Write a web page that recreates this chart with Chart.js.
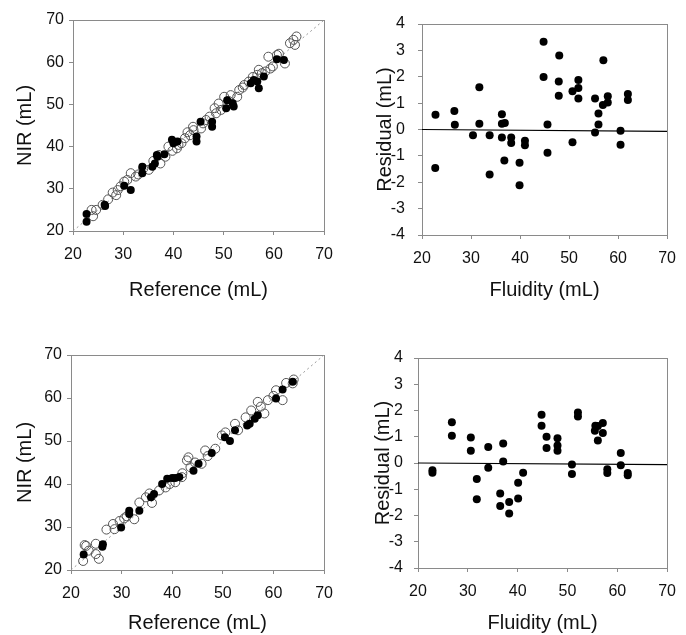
<!DOCTYPE html>
<html>
<head>
<meta charset="utf-8">
<script src="https://cdn.jsdelivr.net/npm/chart.js@4.4.1/dist/chart.umd.min.js"></script>
<style>
  body { margin: 0; background: #fff; }
  #wrap { position: relative; width: 686px; height: 635px; }
  canvas { position: absolute; }
</style>
</head>
<body>
<div id="wrap">
  <canvas id="topLeft" width="343" height="310" style="left:0;top:0"></canvas>
  <canvas id="topRight" width="343" height="310" style="left:343px;top:0"></canvas>
  <canvas id="bottomLeft" width="343" height="325" style="left:0;top:310px"></canvas>
  <canvas id="bottomRight" width="343" height="325" style="left:343px;top:310px"></canvas>
</div>
<script>
// ---- data ----
const xTickValues = [20, 30, 40, 50, 60, 70];
const nirTickValues = [20, 30, 40, 50, 60, 70];
const residTickValues = [-4, -3, -2, -1, 0, 1, 2, 3, 4];

const diagX = [20, 70];
const diagY = [20, 70];
const zeroX = [20, 70];
const zeroYTop = [0, -0.07];
const zeroYBottom = [0, -0.06];

// top left: NIR vs reference
const tlFilledX = [22.7, 22.7, 26.4, 30.2, 31.5, 33.8, 33.8, 35.8, 36.3, 36.8, 38.2, 39.7, 40.0, 40.8, 44.6, 44.6, 45.4, 47.7, 47.7, 50.7, 50.5, 51.8, 52.0, 55.4, 56.0, 56.7, 57.0, 58.0, 60.6, 62.0, 26.3, 36.7];
const tlFilledY = [24.0, 22.2, 25.9, 30.7, 29.7, 35.2, 33.7, 35.2, 36.0, 37.6, 38.2, 41.6, 40.8, 41.2, 41.2, 42.4, 45.9, 45.9, 44.7, 51.0, 49.1, 50.3, 49.5, 55.0, 55.8, 55.4, 53.8, 56.6, 60.7, 60.5, 26.2, 38.0];
const tlOpenX = [23.7, 24.6, 25.9, 27.9, 28.6, 28.9, 30.2, 31.5, 30.8, 32.5, 35.1, 37.4, 38.4, 40.7, 41.0, 42.3, 43.3, 43.9, 45.5, 45.9, 47.2, 48.2, 49.5, 50.1, 51.4, 53.1, 52.7, 55.0, 57.0, 57.6, 58.3, 59.3, 58.9, 60.6, 62.2, 63.9, 64.2, 64.5, 63.2, 37.1, 39.0, 41.6, 44.0, 48.5, 54.1, 56.7, 33.0, 29.5,
                 34.0, 36.0, 39.8, 42.8, 46.5, 49.0, 51.0, 53.8, 55.8, 59.8, 61.0, 27.0, 24.0];
const tlOpenY = [25.0, 25.0, 26.2, 29.1, 28.5, 29.7, 31.7, 33.7, 32.1, 32.9, 34.5, 36.0, 37.6, 39.6, 40.4, 42.0, 42.7, 44.7, 44.3, 45.5, 47.1, 49.1, 48.7, 51.8, 52.2, 53.4, 51.8, 55.4, 58.2, 57.4, 57.8, 58.5, 61.3, 61.7, 59.7, 65.3, 64.1, 66.1, 64.5, 38.0, 40.0, 40.8, 43.9, 47.9, 54.6, 57.0, 33.4, 30.6,
                 34.8, 36.6, 39.0, 43.4, 46.3, 50.2, 50.8, 54.0, 56.5, 59.0, 62.0, 27.5, 23.5];

// top right: residuals
const trX = [22.75, 22.7, 26.6, 26.7, 30.4, 31.7, 31.7, 33.8, 33.8, 36.3, 36.3, 36.9, 36.3, 36.8, 38.2, 38.2, 39.9, 39.9, 41.0, 41.0, 44.8, 44.8, 45.6, 45.6, 48.0, 47.9, 47.9, 50.7, 50.7, 51.9, 51.9, 51.9, 55.3, 55.3, 56.0, 56.0, 57.0, 56.9, 57.9, 57.9, 60.5, 60.5, 62.0, 62.0];
const trY = [0.56, -1.46, 0.70, 0.18, -0.22, 1.60, 0.22, -0.22, -1.71, 0.58, 0.22, 0.25, -0.30, -1.18, -0.30, -0.51, -1.26, -2.11, -0.43, -0.60, 3.33, 1.99, 0.19, -0.88, 2.81, 1.82, 1.28, 1.45, -0.48, 1.88, 1.57, 1.18, 1.18, -0.11, 0.61, 0.19, 2.63, 0.93, 1.26, 1.02, -0.05, -0.58, 1.35, 1.12];

// bottom left: NIR vs reference
const blFilledX = [22.5, 26.2, 26.3, 29.9, 31.5, 31.5, 33.5, 35.8, 36.4, 38.0, 39.0, 40.0, 40.6, 44.2, 45.2, 47.8, 50.4, 51.4, 52.4, 55.3, 56.3, 56.9, 60.5, 61.8, 63.8, 41.4, 54.8];
const blFilledY = [23.6, 25.4, 26.0, 29.9, 33.0, 33.8, 33.8, 36.9, 37.7, 40.0, 41.2, 41.4, 41.4, 43.1, 44.7, 47.2, 50.9, 50.0, 52.5, 54.0, 55.2, 56.0, 59.9, 62.0, 63.8, 41.6, 53.6];
const blOpenX = [22.4, 24.9, 25.5, 23.0, 24.9, 22.7, 28.3, 28.6, 29.6, 32.5, 33.5, 34.8, 37.4, 38.7, 40.6, 41.9, 42.9, 43.6, 43.2, 45.8, 46.5, 48.5, 49.8, 52.4, 53.0, 55.6, 56.9, 58.2, 58.9, 60.5, 61.8, 63.8, 64.0, 27.0, 30.5, 36.0,
                 35.5, 39.5, 42.0, 44.5, 47.0, 50.5, 54.5, 57.5, 60.0, 62.5, 31.0, 23.5];
const blOpenY = [22.1, 23.7, 22.6, 25.6, 26.1, 25.8, 30.7, 29.5, 31.4, 31.8, 35.7, 36.9, 38.5, 39.2, 40.4, 41.6, 45.5, 43.9, 46.2, 44.7, 47.8, 48.2, 51.3, 54.0, 52.5, 57.1, 59.1, 56.4, 59.5, 61.8, 59.5, 63.4, 64.3, 29.4, 32.0, 35.6,
                 37.8, 40.0, 42.5, 45.0, 46.5, 52.0, 55.5, 58.0, 60.5, 63.5, 32.5, 24.5];

// bottom right: residuals
const brX = [22.9, 22.9, 26.8, 26.8, 30.6, 30.6, 31.8, 31.8, 34.1, 34.1, 37.1, 37.1, 36.5, 36.5, 38.3, 38.3, 40.1, 40.1, 41.1, 44.8, 44.8, 45.8, 45.8, 48.0, 48.0, 48.0, 50.9, 50.9, 52.1, 52.1, 55.6, 55.5, 56.1, 57.1, 57.1, 56.1, 58.0, 58.0, 60.7, 60.7, 62.1, 62.1];
const brY = [-0.28, -0.37, 1.55, 1.04, 0.97, 0.47, -0.61, -1.38, 0.61, -0.18, 0.74, 0.06, -1.16, -1.64, -1.49, -1.92, -0.75, -1.35, -0.37, 1.84, 1.42, 1.00, 0.57, 0.94, 0.67, 0.47, -0.06, -0.42, 1.92, 1.77, 1.42, 1.23, 1.41, 1.52, 1.14, 0.86, -0.24, -0.38, 0.38, -0.09, -0.38, -0.47];

// ---- helpers ----
const zip = (xs, ys) => xs.map((x, i) => ({ x: x, y: ys[i] }));
const FONT = "'Liberation Sans', Arial, sans-serif";
const INK = '#111';

const framePlugin = {
  id: 'frame',
  beforeDatasetsDraw(chart) {
    const { ctx, chartArea: a } = chart;
    ctx.save();
    ctx.strokeStyle = '#8a8a8a';
    ctx.lineWidth = 1;
    ctx.strokeRect(Math.round(a.left) + 0.5, Math.round(a.top) + 0.5, Math.round(a.width), Math.round(a.height));
    ctx.restore();
  }
};

function filledSet(points) {
  return { data: points, pointRadius: 4, pointBackgroundColor: '#000', pointBorderColor: '#000', pointBorderWidth: 0 };
}
function openSet(points) {
  return { data: points, pointRadius: 4.5, pointBackgroundColor: 'rgba(255,255,255,0)', pointBorderColor: '#555', pointBorderWidth: 1 };
}
function lineSet(points, color, width, dash) {
  return { data: points, showLine: true, pointRadius: 0, borderColor: color, borderWidth: width, borderDash: dash };
}

function makePanel(id, p) {
  new Chart(document.getElementById(id), {
    type: 'scatter',
    data: { datasets: p.datasets },
    options: {
      responsive: false,
      animation: false,
      devicePixelRatio: 1,
      layout: { padding: { top: p.top, right: p.right, left: 0, bottom: 0 } },
      plugins: { legend: { display: false }, tooltip: { enabled: false } },
      scales: {
        x: {
          type: 'linear', min: 20, max: 70,
          afterBuildTicks: s => { s.ticks = xTickValues.map(v => ({ value: v })); },
          afterFit: s => { s.height = p.xHeight; },
          border: { display: false },
          grid: { drawOnChartArea: false, tickLength: 4, color: '#8a8a8a' },
          ticks: { color: INK, font: { family: FONT, size: 16 }, padding: 10, maxRotation: 0 },
          title: { display: true, text: p.xTitle, color: INK, font: { family: FONT, size: 20 }, padding: { top: 0, bottom: p.xTitlePad } }
        },
        y: {
          type: 'linear', min: p.yMin, max: p.yMax,
          afterBuildTicks: s => { s.ticks = p.yTicks.map(v => ({ value: v })); },
          afterFit: s => { s.width = p.yWidth; },
          border: { display: false },
          grid: { drawOnChartArea: false, tickLength: 4, color: '#8a8a8a' },
          ticks: { color: INK, font: { family: FONT, size: 16 }, padding: p.yTickPad },
          title: { display: true, text: p.yTitle, color: INK, font: { family: FONT, size: 20 }, padding: { top: p.yTitlePad, bottom: 0 } }
        }
      }
    },
    plugins: [framePlugin]
  });
}

makePanel('topLeft', {
  top: 20, right: 15, xHeight: 79, yWidth: 73, yTickPad: 5,
  xTitle: 'Reference (mL)', xTitlePad: 8, yTitle: 'NIR (mL)', yTitlePad: 13,
  yMin: 20, yMax: 70, yTicks: nirTickValues,
  datasets: [
    filledSet(zip(tlFilledX, tlFilledY)),
    openSet(zip(tlOpenX, tlOpenY)),
    lineSet(zip(diagX, diagY), '#999', 1, [2, 3])
  ]
});

makePanel('topRight', {
  top: 24, right: 10, xHeight: 75, yWidth: 79, yTickPad: 13,
  xTitle: 'Fluidity (mL)', xTitlePad: 8, yTitle: 'Residual (mL)', yTitlePad: 30,
  yMin: -4, yMax: 4, yTicks: residTickValues,
  datasets: [
    filledSet(zip(trX, trY)),
    lineSet(zip(zeroX, zeroYTop), '#000', 1.2, [])
  ]
});

makePanel('bottomLeft', {
  top: 45, right: 16, xHeight: 65, yWidth: 71, yTickPad: 5,
  xTitle: 'Reference (mL)', xTitlePad: 0, yTitle: 'NIR (mL)', yTitlePad: 13,
  yMin: 20, yMax: 70, yTicks: nirTickValues,
  datasets: [
    filledSet(zip(blFilledX, blFilledY)),
    openSet(zip(blOpenX, blOpenY)),
    lineSet(zip(diagX, diagY), '#999', 1, [2, 3])
  ]
});

makePanel('bottomRight', {
  top: 48, right: 13, xHeight: 67, yWidth: 75, yTickPad: 11,
  xTitle: 'Fluidity (mL)', xTitlePad: 0, yTitle: 'Residual (mL)', yTitlePad: 28,
  yMin: -4, yMax: 4, yTicks: residTickValues,
  datasets: [
    filledSet(zip(brX, brY)),
    lineSet(zip(zeroX, zeroYBottom), '#000', 1.2, [])
  ]
});
</script>
</body>
</html>
